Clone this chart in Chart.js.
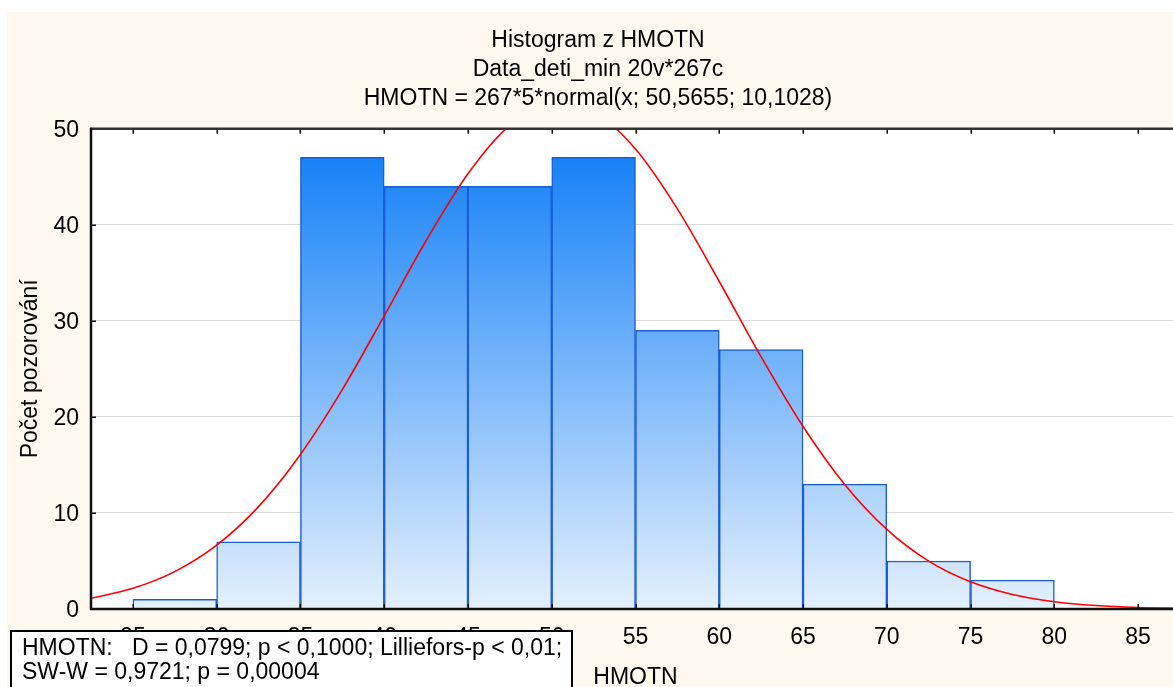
<!DOCTYPE html>
<html><head><meta charset="utf-8">
<script src="https://cdn.jsdelivr.net/npm/chart.js@4.4.0/dist/chart.umd.min.js"></script>
<style>
html,body{margin:0;padding:0;overflow:hidden;background:#fff;width:1173px;height:687px}
canvas{display:block}
</style></head>
<body>
<canvas id="c" width="1180" height="687" style="width:1180px;height:687px"></canvas>
<script>
// ---- data ----
const binStarts = [25, 30, 35, 40, 45, 50, 55, 60, 65, 70, 75];
const binCounts = [1, 7, 47, 44, 44, 47, 29, 27, 13, 5, 3];
const binWidth = 5;
const curveX = [22.5, 25, 27.5, 30, 32.5, 35, 37.5, 40, 42.5, 45, 47.5, 50, 52.5, 55, 57.5, 60, 62.5, 65, 67.5, 70, 72.5, 75, 77.5, 80, 82.5, 85, 87.5];
const curveY = [1.11, 2.15, 3.89, 6.64, 10.66, 16.09, 22.84, 30.51, 38.33, 45.30, 50.35, 52.63, 51.76, 47.88, 41.65, 34.09, 26.24, 19.00, 12.94, 8.29, 4.99, 2.83, 1.51, 0.76, 0.36, 0.16, 0.07];
const xTickValues = [25, 30, 35, 40, 45, 50, 55, 60, 65, 70, 75, 80, 85];
const yTickValues = [0, 10, 20, 30, 40, 50];
const titleLines = ["Histogram z HMOTN", "Data_deti_min 20v*267c", "HMOTN = 267*5*normal(x; 50,5655; 10,1028)"];
const xTitle = "HMOTN";
const yTitle = "Počet pozorování";
const statLines = ["HMOTN:   D = 0,0799; p < 0,1000; Lilliefors-p < 0,01;", "SW-W = 0,9721; p = 0,00004"];

const FONT = "'Liberation Sans', Arial, sans-serif";
const FS = 23;

const bgPlugin = {
  id: 'bg',
  beforeDraw(chart) {
    const c = chart.ctx, a = chart.chartArea;
    c.save();
    c.fillStyle = '#ffffff';
    c.fillRect(0, 0, chart.width, chart.height);
    c.fillStyle = '#FEF9EF';
    c.fillRect(7, 12, chart.width - 7, chart.height - 12);
    c.fillStyle = '#ffffff';
    c.fillRect(a.left, a.top, a.right - a.left, a.bottom - a.top);
    c.restore();
  }
};

const framePlugin = {
  id: 'frame',
  afterDatasetsDraw(chart) {
    const c = chart.ctx, a = chart.chartArea;
    const xs = chart.scales.x, ys = chart.scales.y;
    c.save();
    c.lineCap = 'butt';
    c.strokeStyle = '#111';
    c.lineWidth = 1.5;
    xTickValues.forEach(v => {
      const px = Math.round(xs.getPixelForValue(v)) + 0.25;
      c.beginPath(); c.moveTo(px, a.top); c.lineTo(px, a.top + 5); c.stroke();
      c.beginPath(); c.moveTo(px, a.bottom); c.lineTo(px, a.bottom - 5); c.stroke();
    });
    yTickValues.forEach(v => {
      const py = Math.round(ys.getPixelForValue(v)) + 0.25;
      c.beginPath(); c.moveTo(a.left, py); c.lineTo(a.left + 5, py); c.stroke();
    });
    c.lineWidth = 2.5;
    c.strokeStyle = '#333';
    c.beginPath(); c.moveTo(a.left - 1, a.top); c.lineTo(a.right + 2, a.top); c.stroke();
    c.strokeStyle = '#111';
    c.beginPath(); c.moveTo(a.left, a.top - 1); c.lineTo(a.left, a.bottom + 1); c.stroke();
    c.beginPath(); c.moveTo(a.left - 1, a.bottom); c.lineTo(a.right + 2, a.bottom); c.stroke();
    c.restore();
  },
  afterDraw(chart) {
    const c = chart.ctx;
    c.save();
    c.fillStyle = '#ffffff';
    c.fillRect(11, 631, 561, 70);
    c.strokeStyle = '#000';
    c.lineWidth = 2;
    c.strokeRect(11, 631, 561, 70);
    c.fillStyle = '#000';
    c.font = FS + 'px ' + FONT;
    c.textBaseline = 'alphabetic';
    c.textAlign = 'left';
    c.fillText(statLines[0], 22, 655);
    c.fillText(statLines[1], 22, 679);
    c.restore();
  }
};

const barData = binStarts.map((s, i) => ({ x: s + binWidth / 2, y: binCounts[i] }));
const curveData = curveX.map((x, i) => ({ x: x, y: curveY[i] }));

new Chart(document.getElementById('c'), {
  type: 'bar',
  data: {
    datasets: [
      {
        type: 'line',
        data: curveData,
        borderColor: '#FF0000',
        borderWidth: 1.6,
        pointRadius: 0,
        fill: false,
        cubicInterpolationMode: 'monotone',
        order: 0
      },
      {
        type: 'bar',
        data: barData,
        barPercentage: 1,
        categoryPercentage: 1,
        borderColor: '#1A5ED6',
        borderWidth: 1.5,
        borderSkipped: 'bottom',
        backgroundColor: (ctx) => {
          const chart = ctx.chart, a = chart.chartArea;
          if (!a) return '#5aa8f8';
          const g = chart.ctx.createLinearGradient(0, a.top, 0, a.bottom);
          g.addColorStop(0, '#0A7BF6');
          g.addColorStop(1, '#E4F0FD');
          return g;
        },
        order: 1
      }
    ]
  },
  options: {
    responsive: false,
    animation: false,
    devicePixelRatio: 1,
    layout: { padding: { left: 16, top: 0, right: 0, bottom: 0 } },
    plugins: {
      legend: { display: false },
      tooltip: { enabled: false },
      title: {
        display: true,
        text: titleLines,
        color: '#000',
        font: { family: FONT, size: FS, weight: 'normal', lineHeight: 1.27 },
        padding: { top: 26, bottom: 15 }
      }
    },
    scales: {
      x: {
        type: 'linear',
        min: 22.5,
        max: 87.5,
        offset: false,
        afterBuildTicks: (scale) => { scale.ticks = xTickValues.map(v => ({ value: v })); },
        afterFit: (scale) => { scale.height = 78; },
        ticks: { color: '#000', font: { family: FONT, size: FS, lineHeight: 1.2 }, padding: 15, maxRotation: 0, autoSkip: false },
        grid: { display: false, drawTicks: false },
        border: { display: false },
        title: { display: true, text: xTitle, color: '#000', font: { family: FONT, size: FS, lineHeight: 1 }, padding: { top: 0, bottom: -2 } }
      },
      y: {
        min: 0,
        max: 50,
        afterBuildTicks: (scale) => { scale.ticks = yTickValues.map(v => ({ value: v })); },
        afterFit: (scale) => { scale.width = 75; },
        ticks: { color: '#000', font: { family: FONT, size: FS }, padding: 12, labelOffset: 2 },
        grid: {
          drawTicks: false,
          lineWidth: 1,
          color: (ctx) => (ctx.tick && (ctx.tick.value === 0 || ctx.tick.value === 50)) ? 'rgba(0,0,0,0)' : '#DADADA'
        },
        border: { display: false },
        title: { display: true, text: yTitle, color: '#000', font: { family: FONT, size: FS, lineHeight: 1 }, padding: { top: 3, bottom: 0 } }
      }
    }
  },
  plugins: [bgPlugin, framePlugin]
});
</script>
</body></html>
